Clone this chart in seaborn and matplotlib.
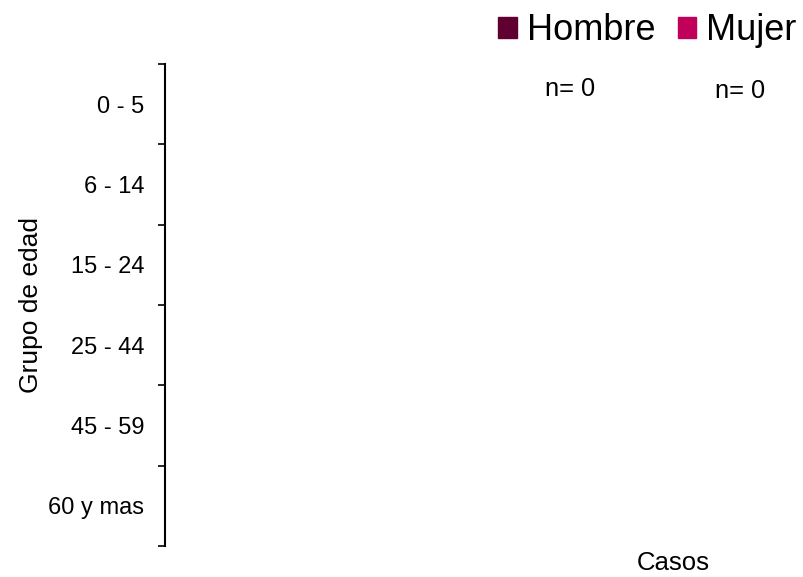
import pandas as pd
import matplotlib.pyplot as plt
import seaborn as sns
from matplotlib.patches import Patch
from matplotlib.ticker import FixedLocator

sns.set_style("white")
plt.rcParams["font.family"] = ["Liberation Sans", "DejaVu Sans"]
plt.rcParams["text.color"] = "black"
plt.rcParams["axes.labelcolor"] = "black"
plt.rcParams["ytick.color"] = "black"

# datos (sin casos registrados)
grupos = ["0 - 5", "6 - 14", "15 - 24", "25 - 44", "45 - 59", "60 y mas"]
hombre = [0, 0, 0, 0, 0, 0]
mujer = [0, 0, 0, 0, 0, 0]
n_hombre = sum(hombre)
n_mujer = sum(mujer)

color_hombre = "#600030"
color_mujer = "#C0005A"

df = pd.DataFrame({
    "grupo": grupos * 2,
    "casos": [-v for v in hombre] + mujer,
    "sexo": ["Hombre"] * len(grupos) + ["Mujer"] * len(grupos),
})

fig = plt.figure(figsize=(8.04, 5.77), dpi=100)
ax = fig.add_axes([165 / 804, 31 / 577, 630 / 804, 482 / 577])

sns.barplot(data=df, x="casos", y="grupo", hue="sexo", order=grupos,
            palette=[color_hombre, color_mujer], dodge=False,
            orient="h", legend=False, ax=ax)

ax.set_xlim(-1, 1)
ax.set_ylim(len(grupos) - 0.5, -0.5)

# ticks en los limites entre grupos
ax.yaxis.set_minor_locator(FixedLocator([i - 0.5 for i in range(len(grupos) + 1)]))
ax.tick_params(axis="y", which="major", length=0, labelsize=17, pad=15)
ax.tick_params(axis="y", which="minor", length=5, width=1.2, color="black", left=True)
ax.set_xticks([])
ax.set_xlabel("")
ax.set_ylabel("Grupo de edad", fontsize=19, labelpad=4)

for s in ["top", "right", "bottom"]:
    ax.spines[s].set_visible(False)
ax.spines["left"].set_color("black")
ax.spines["left"].set_linewidth(1.5)

fig.text(570 / 804, 1 - 89 / 577, f"n= {n_hombre}", fontsize=18.3,
         ha="center", va="center")
fig.text(740 / 804, 1 - 91 / 577, f"n= {n_mujer}", fontsize=18.3,
         ha="center", va="center")
fig.text(673 / 804, 1 - 570 / 577, "Casos", fontsize=18.5,
         ha="center", va="baseline")

handles = [Patch(color=color_hombre, label="Hombre"),
           Patch(color=color_mujer, label="Mujer")]
fig.legend(handles=handles, loc="upper right", bbox_to_anchor=(1.0, 1 - 6 / 577),
           ncol=2, frameon=False, fontsize=26, handlelength=0.5,
           handleheight=0.5, handletextpad=0.3, columnspacing=0.6,
           borderaxespad=0.1, borderpad=0.1)

fig.savefig("out.png", dpi=100)
